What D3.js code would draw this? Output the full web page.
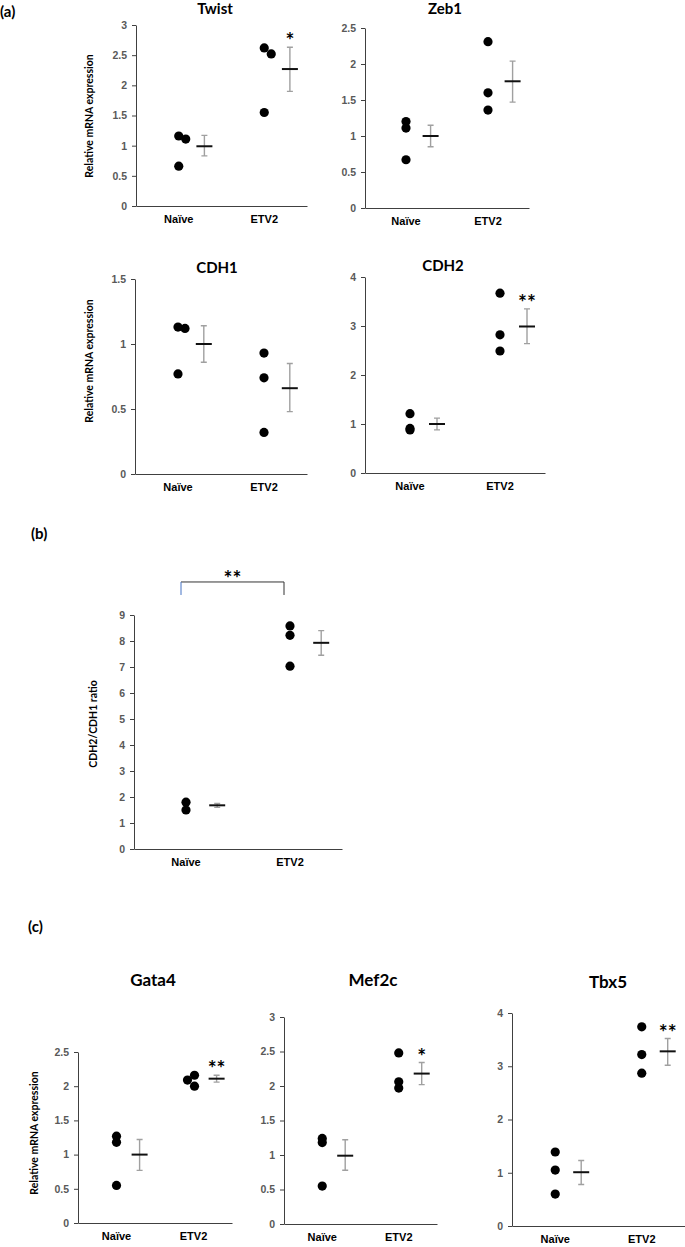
<!DOCTYPE html>
<html>
<head>
<meta charset="utf-8">
<script src="https://cdn.jsdelivr.net/npm/d3@7"></script>
<style>
body { margin: 0; background: #fff; }
svg { display: block; font-family: Lato, "Open Sans", sans-serif; }
</style>
</head>
<body>
<script>
// groups on every x axis
var categories = ["Naïve", "ETV2"];

// (a) EMT markers
var twistPoints = [[1.16, 1.11, 0.66], [2.62, 2.52, 1.55]];
var twistMeans = [0.99, 2.27];
var twistErrors = [[0.83, 1.17], [1.90, 2.63]];
var twistStars = ["", "*"];
var twistTicks = [0, 0.5, 1, 1.5, 2, 2.5, 3];

var zeb1Points = [[1.20, 1.11, 0.67], [2.31, 1.60, 1.36]];
var zeb1Means = [1.00, 1.76];
var zeb1Errors = [[0.85, 1.15], [1.47, 2.04]];
var zeb1Stars = ["", ""];
var zeb1Ticks = [0, 0.5, 1, 1.5, 2, 2.5];

var cdh1Points = [[1.13, 1.12, 0.77], [0.93, 0.74, 0.32]];
var cdh1Means = [1.00, 0.66];
var cdh1Errors = [[0.86, 1.14], [0.48, 0.85]];
var cdh1Stars = ["", ""];
var cdh1Ticks = [0, 0.5, 1, 1.5];

var cdh2Points = [[1.21, 0.91, 0.88], [3.67, 2.82, 2.49]];
var cdh2Means = [1.00, 2.99];
var cdh2Errors = [[0.88, 1.12], [2.64, 3.35]];
var cdh2Stars = ["", "**"];
var cdh2Ticks = [0, 1, 2, 3, 4];

// (b) ratio
var ratioPoints = [[1.80, 1.50], [8.58, 8.22, 7.03]];
var ratioMeans = [1.68, 7.93];
var ratioErrors = [[1.60, 1.75], [7.45, 8.40]];
var ratioStars = ["", ""];
var ratioTicks = [0, 1, 2, 3, 4, 5, 6, 7, 8, 9];

// (c) cardiac markers
var gata4Points = [[1.27, 1.18, 0.55], [2.09, 2.16, 2.00]];
var gata4Means = [1.00, 2.11];
var gata4Errors = [[0.77, 1.22], [2.06, 2.16]];
var gata4Stars = ["", "**"];
var gata4Ticks = [0, 0.5, 1, 1.5, 2, 2.5];

var mef2cPoints = [[1.24, 1.18, 0.55], [2.48, 2.06, 1.97]];
var mef2cMeans = [0.99, 2.18];
var mef2cErrors = [[0.78, 1.22], [2.02, 2.34]];
var mef2cStars = ["", "*"];
var mef2cTicks = [0, 0.5, 1, 1.5, 2, 2.5, 3];

var tbx5Points = [[1.39, 1.05, 0.60], [3.74, 3.22, 2.87]];
var tbx5Means = [1.01, 3.28];
var tbx5Errors = [[0.78, 1.23], [3.02, 3.52]];
var tbx5Stars = ["", "**"];
var tbx5Ticks = [0, 1, 2, 3, 4];

var yTitle = "Relative mRNA expression";

var svg = d3.select("body").append("svg")
    .attr("width", 685)
    .attr("height", 1247);

// layout of each small plot
var panels = [
    {title: "Twist", pts: twistPoints, means: twistMeans, errs: twistErrors, stars: twistStars, ticks: twistTicks,
     x0: 136, x1: 307, yTop: 25, yBottom: 206, jitter: [[0, 7, 0], [0, 7, 0]],
     titleX: 215, titleY: 14, titleSize: 15, label: yTitle, labelX: 93, labelY: 116},
    {title: "Zeb1", pts: zeb1Points, means: zeb1Means, errs: zeb1Errors, stars: zeb1Stars, ticks: zeb1Ticks,
     x0: 365, x1: 529, yTop: 28, yBottom: 208, jitter: [[0, 0, 0], [0, 0, 0]],
     titleX: 445, titleY: 14, titleSize: 15},
    {title: "CDH1", pts: cdh1Points, means: cdh1Means, errs: cdh1Errors, stars: cdh1Stars, ticks: cdh1Ticks,
     x0: 135, x1: 307, yTop: 279, yBottom: 474, jitter: [[0, 7, 0], [0, 0, 0]],
     titleX: 217, titleY: 273, titleSize: 15, label: yTitle, labelX: 93, labelY: 361},
    {title: "CDH2", pts: cdh2Points, means: cdh2Means, errs: cdh2Errors, stars: cdh2Stars, ticks: cdh2Ticks,
     x0: 365, x1: 545, yTop: 277, yBottom: 473, jitter: [[0, 0, 0], [0, 0, 0]],
     titleX: 443, titleY: 271, titleSize: 15},
    {title: "", pts: ratioPoints, means: ratioMeans, errs: ratioErrors, stars: ratioStars, ticks: ratioTicks,
     x0: 134, x1: 342, yTop: 615, yBottom: 849, jitter: [[0, 0], [0, 0, 0]],
     label: "CDH2/CDH1 ratio", labelX: 97, labelY: 724, bracket: true},
    {title: "Gata4", pts: gata4Points, means: gata4Means, errs: gata4Errors, stars: gata4Stars, ticks: gata4Ticks,
     x0: 78, x1: 232, yTop: 1052, yBottom: 1223, jitter: [[0, 0, 0], [-6, 1, 1]],
     titleX: 153, titleY: 986, titleSize: 17, label: yTitle, labelX: 38, labelY: 1133},
    {title: "Mef2c", pts: mef2cPoints, means: mef2cMeans, errs: mef2cErrors, stars: mef2cStars, ticks: mef2cTicks,
     x0: 284, x1: 437, yTop: 1017, yBottom: 1224, jitter: [[0, 0, 0], [0, 0, 0]],
     titleX: 373, titleY: 986, titleSize: 17},
    {title: "Tbx5", pts: tbx5Points, means: tbx5Means, errs: tbx5Errors, stars: tbx5Stars, ticks: tbx5Ticks,
     x0: 512, x1: 685, yTop: 1013, yBottom: 1226, jitter: [[0, 0, 0], [0, 0, 0]],
     titleX: 608, titleY: 988, titleSize: 17}
];

function drawPanel(p) {
    var g = svg.append("g");
    var x = d3.scaleBand().domain(categories).range([p.x0, p.x1]);
    var y = d3.scaleLinear().domain([0, d3.max(p.ticks)]).range([p.yBottom, p.yTop]);
    var bw = x.bandwidth();
    var cx = function(i) { return x(categories[i]) + bw / 2; };
    var mx = function(i) { return cx(i) + bw * 0.3; };

    var ya = g.append("g")
        .attr("transform", "translate(" + p.x0 + ",0)")
        .attr("font-family", null)
        .call(d3.axisLeft(y).tickValues(p.ticks).tickSize(4).tickSizeOuter(0).tickPadding(5)
            .tickFormat(function(d) { return String(d); }));
    ya.select(".domain").attr("stroke", "#404040");
    ya.selectAll(".tick line").attr("stroke", "#404040");
    ya.selectAll("text")
        .attr("fill", "#595959")
        .style("font-size", "10.5px")
        .style("font-weight", "bold");

    var xa = g.append("g")
        .attr("transform", "translate(0," + p.yBottom + ")")
        .attr("font-family", null)
        .call(d3.axisBottom(x).tickSize(0).tickSizeOuter(0).tickPadding(9));
    xa.select(".domain").attr("stroke", "#404040");
    xa.selectAll("text")
        .attr("fill", "#000")
        .style("font-size", "11px")
        .style("font-weight", "bold");

    // individual values
    p.pts.forEach(function(vals, i) {
        g.selectAll(null)
            .data(vals)
            .enter()
            .append("circle")
            .attr("cx", function(d, j) { return cx(i) + p.jitter[i][j]; })
            .attr("cy", function(d) { return y(d); })
            .attr("r", 4.6)
            .attr("fill", "#000");
    });

    // error bars
    g.selectAll(null)
        .data(p.errs)
        .enter()
        .append("path")
        .attr("d", function(d, i) {
            var m = mx(i);
            return "M" + m + "," + y(d[0]) + "V" + y(d[1]) +
                "M" + (m - 3) + "," + y(d[0]) + "H" + (m + 3) +
                "M" + (m - 3) + "," + y(d[1]) + "H" + (m + 3);
        })
        .attr("stroke", "#a0a0a0")
        .attr("stroke-width", 1.4)
        .attr("fill", "none");

    // means
    g.selectAll(null)
        .data(p.means)
        .enter()
        .append("line")
        .attr("x1", function(d, i) { return mx(i) - 8; })
        .attr("x2", function(d, i) { return mx(i) + 8; })
        .attr("y1", function(d) { return y(d); })
        .attr("y2", function(d) { return y(d); })
        .attr("stroke", "#111")
        .attr("stroke-width", 2);

    // significance
    g.selectAll(null)
        .data(p.stars)
        .enter()
        .append("text")
        .attr("x", function(d, i) { return mx(i); })
        .attr("y", function(d, i) { return y(p.errs[i][1]) + 1; })
        .attr("text-anchor", "middle")
        .style("font-size", "21px")
        .style("font-weight", "bold")
        .text(function(d) { return d; });

    if (p.title) {
        g.append("text")
            .attr("x", p.titleX)
            .attr("y", p.titleY)
            .attr("text-anchor", "middle")
            .style("font-size", p.titleSize + "px")
            .style("font-weight", "bold")
            .text(p.title);
    }

    if (p.label) {
        g.append("text")
            .attr("transform", "translate(" + p.labelX + "," + p.labelY + ") rotate(-90)")
            .attr("text-anchor", "middle")
            .style("font-size", "10.5px")
            .style("font-weight", "bold")
            .text(p.label);
    }

    if (p.bracket) {
        var top = y(10.27), foot = y(9.77);
        var bl = cx(0) - 5, br = cx(1) - 6;
        g.append("path")
            .attr("d", "M" + bl + "," + top + "H" + br + "V" + foot)
            .attr("stroke", "#333")
            .attr("fill", "none");
        g.append("line")
            .attr("x1", bl).attr("x2", bl)
            .attr("y1", top).attr("y2", foot)
            .attr("stroke", "#4472c4");
        g.append("text")
            .attr("x", (bl + br) / 2)
            .attr("y", top + 4)
            .attr("text-anchor", "middle")
            .style("font-size", "21px")
            .style("font-weight", "bold")
            .text("**");
    }
}

panels.forEach(drawPanel);

// panel letters
svg.selectAll(".letter")
    .data([["(a)", 0, 17], ["(b)", 31, 539], ["(c)", 28, 932]])
    .enter()
    .append("text")
    .attr("class", "letter")
    .attr("x", function(d) { return d[1]; })
    .attr("y", function(d) { return d[2]; })
    .style("font-size", "15px")
    .style("font-weight", "bold")
    .text(function(d) { return d[0]; });
</script>
</body>
</html>
